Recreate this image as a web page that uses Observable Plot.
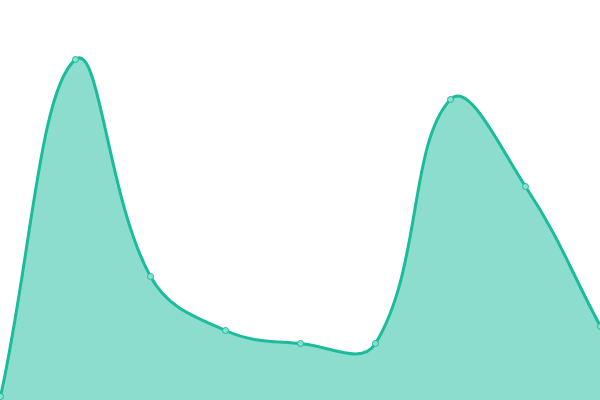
<!DOCTYPE html>
<html><head><meta charset="utf-8">
<script src="https://cdn.jsdelivr.net/npm/d3@7"></script>
<script src="https://cdn.jsdelivr.net/npm/@observablehq/plot@0.6"></script>
<style>html,body{margin:0;padding:0;background:#fff;}</style>
</head><body>
<div id="chart"></div>
<script>
const xs = [0, 1, 2, 3, 4, 5, 6, 7, 8];
const values = [4, 341, 124, 70, 57, 57, 301, 214, 74];
const data = xs.map((x, i) => ({x, v: values[i]}));

// Distance-weighted spline (tension 0.4) as a d3 curve factory
function splineCurve(context) {
  const T = 0.4;
  let pts = [], line;
  return {
    areaStart() { line = 0; },
    areaEnd() { line = NaN; },
    lineStart() { pts = []; },
    point(x, y) { pts.push([+x, +y]); },
    lineEnd() {
      const n = pts.length;
      if (n) {
        if (line) context.lineTo(pts[0][0], pts[0][1]);
        else context.moveTo(pts[0][0], pts[0][1]);
        const cps = pts.map((p, i) => {
          const prev = pts[Math.max(0, i - 1)], next = pts[Math.min(n - 1, i + 1)];
          const d01 = Math.hypot(p[0] - prev[0], p[1] - prev[1]);
          const d12 = Math.hypot(next[0] - p[0], next[1] - p[1]);
          let s01 = d01 / (d01 + d12), s12 = d12 / (d01 + d12);
          if (isNaN(s01)) s01 = 0;
          if (isNaN(s12)) s12 = 0;
          const fa = T * s01, fb = T * s12;
          return {
            prev: [p[0] - fa * (next[0] - prev[0]), p[1] - fa * (next[1] - prev[1])],
            next: [p[0] + fb * (next[0] - prev[0]), p[1] + fb * (next[1] - prev[1])]
          };
        });
        for (let i = 1; i < n; i++) {
          const a = cps[i - 1].next, b = cps[i].prev;
          context.bezierCurveTo(a[0], a[1], b[0], b[1], pts[i][0], pts[i][1]);
        }
      }
      if (line || (line !== 0 && n === 1)) context.closePath();
      line = 1 - line;
    }
  };
}

const chart = Plot.plot({
  width: 600, height: 400,
  margin: 0,
  x: {domain: [0, 8], axis: null},
  y: {domain: [0, 400], axis: null},
  marks: [
    Plot.areaY(data, {x: "x", y: "v", curve: splineCurve, fill: "#1abc9c", fillOpacity: 0.5}),
    Plot.lineY(data, {x: "x", y: "v", curve: splineCurve, stroke: "#1abc9c", strokeWidth: 3}),
    Plot.dot(data, {x: "x", y: "v", r: 3, fill: "#8ae0d0", stroke: "#1abc9c", strokeWidth: 1})
  ]
});
document.getElementById("chart").append(chart);
</script>
</body></html>
